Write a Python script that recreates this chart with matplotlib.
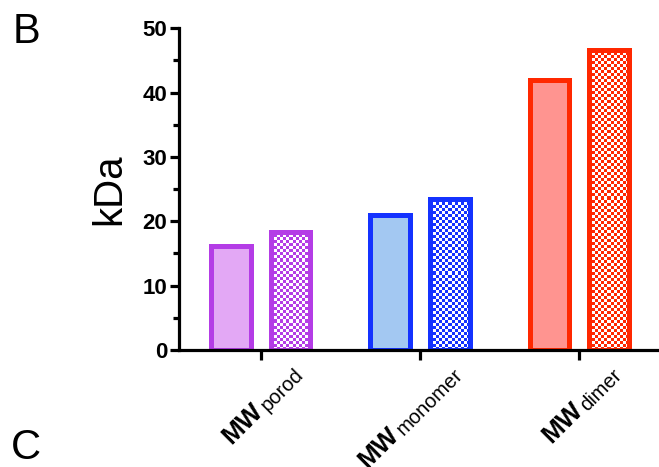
import numpy as np
import matplotlib.pyplot as plt
from matplotlib.colors import to_rgb
from matplotlib.font_manager import FontProperties
from matplotlib.ticker import MultipleLocator
from matplotlib.transforms import IdentityTransform

plt.rcParams['font.family'] = ['Liberation Sans', 'DejaVu Sans']

# data
groups = ['porod', 'monomer', 'dimer']
solid_vals = [16.1, 21.0, 41.9]
checked_vals = [18.4, 23.4, 46.7]
edge_colors = ['#B43CE6', '#1432FF', '#FF2800']
fill_colors = ['#E3A8F5', '#A3C8F2', '#FF9490']
main_label = 'MW'


def checker_fill(ax, bar, color, cell_px=3.0):
    '''Fill a bar with a fine checkerboard, clipped to the bar.'''
    x0, y0 = bar.get_x(), bar.get_y()
    w, h = bar.get_width(), bar.get_height()
    px_per_x = ax.transData.transform((1, 0))[0] - ax.transData.transform((0, 0))[0]
    px_per_y = ax.transData.transform((0, 1))[1] - ax.transData.transform((0, 0))[1]
    nx = max(1, int(round(w * px_per_x / cell_px)))
    ny = max(1, int(round(h * px_per_y / cell_px)))
    ii, jj = np.indices((ny, nx))
    img = np.ones((ny, nx, 3))
    img[(ii + jj) % 2 == 0] = to_rgb(color)
    im = ax.imshow(img, extent=(x0, x0 + w, y0, y0 + h), origin='lower',
                   aspect='auto', interpolation='nearest', zorder=2)
    im.set_clip_path(bar)


fig = plt.figure(figsize=(6.59, 4.67), dpi=100)
ax = fig.add_axes([179 / 659, 1 - 350 / 467, 1 - 179 / 659, (350 - 28.3) / 467])

x = np.arange(len(groups))
off = 0.1875
width = 0.25
lw = 3.6
xlim = (-0.5125, 2.5)

ax.set_xlim(*xlim)
ax.set_ylim(0, 50)

solid = ax.bar(x - off, solid_vals, width, color=fill_colors,
               edgecolor=edge_colors, linewidth=lw, zorder=3)
checked = ax.bar(x + off, checked_vals, width, facecolor='none',
                 edgecolor=edge_colors, linewidth=lw, zorder=3)
for bar, c in zip(checked, edge_colors):
    checker_fill(ax, bar, c)

ax.set_xlim(*xlim)
ax.set_ylim(0, 50)

for side in ['top', 'right']:
    ax.spines[side].set_visible(False)
for side in ['left', 'bottom']:
    ax.spines[side].set_linewidth(2.3)
    ax.spines[side].set_zorder(4)

ax.yaxis.set_major_locator(MultipleLocator(10))
ax.yaxis.set_minor_locator(MultipleLocator(5))
ax.tick_params(axis='y', which='major', length=6.5, width=2.3, pad=2, labelsize=16)
ax.tick_params(axis='y', which='minor', length=4.5, width=2.3)
for t in ax.get_yticklabels():
    t.set_fontweight('bold')

ax.set_xticks(x)
ax.set_xticklabels([])
ax.tick_params(axis='x', length=7, width=2.3)

# rotated "MW subscript" labels, drawn in display pixels
renderer = fig.canvas.get_renderer()
sub_prop = FontProperties(family='Liberation Sans', size=14.5)
d = np.array([np.cos(np.pi / 4), np.sin(np.pi / 4)])   # along the text
up = np.array([-d[1], d[0]])                            # text's up
for xi, g in zip(x, groups):
    base = ax.transData.transform((xi, 0))
    end = base + np.array([44, -26])
    ax.text(end[0], end[1], g, fontproperties=sub_prop, rotation=45,
            rotation_mode='anchor', ha='right', va='baseline',
            transform=IdentityTransform())
    w_sub = renderer.get_text_width_height_descent(g, sub_prop, ismath=False)[0]
    start = end - w_sub * d
    mw = start - 3 * d + 3 * up
    ax.text(mw[0], mw[1], main_label, fontsize=18.7, fontweight='bold',
            rotation=45, rotation_mode='anchor', ha='right', va='baseline',
            transform=IdentityTransform())

ax.set_ylabel('kDa', fontsize=29)
ax.yaxis.set_label_coords(-0.105, 0.5)

fig.text(13 / 659, 1 - 43 / 467, 'B', fontsize=30, ha='left', va='baseline')
fig.text(11 / 659, 1 - 459 / 467, 'C', fontsize=30, ha='left', va='baseline')

fig.savefig('out.png', dpi=100)
